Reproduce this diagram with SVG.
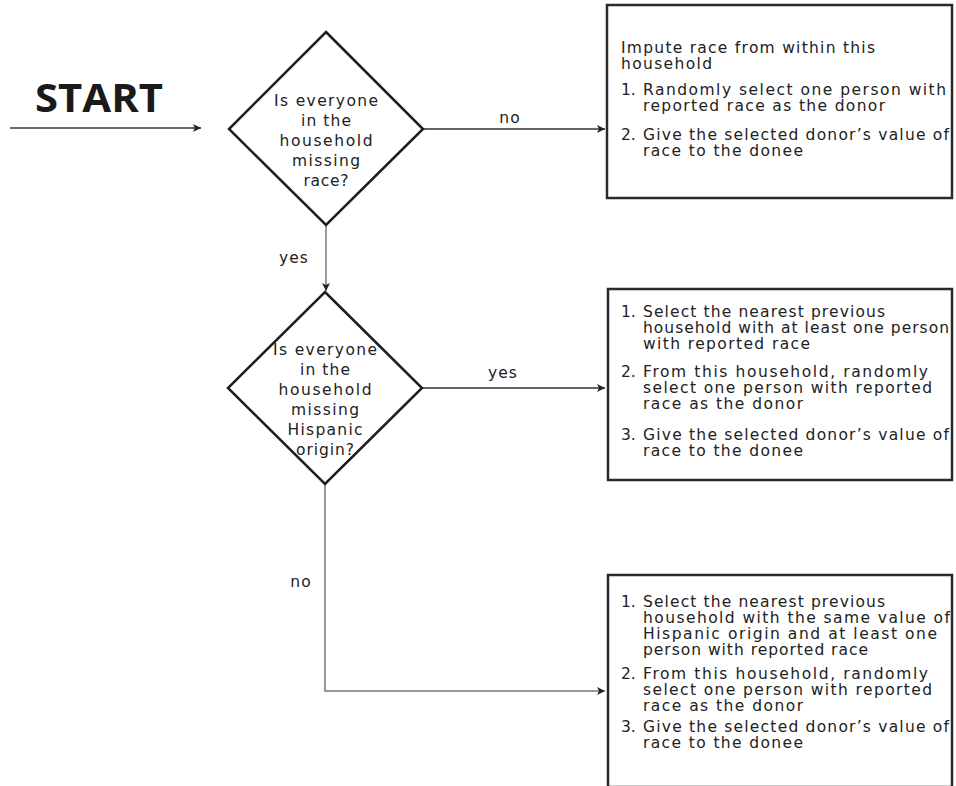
<svg xmlns="http://www.w3.org/2000/svg" width="956" height="786" viewBox="0 0 956 786">
<defs>
<marker id="arr" viewBox="0 0 10 10" refX="10" refY="5" markerWidth="10" markerHeight="8" markerUnits="userSpaceOnUse" orient="auto">
<path d="M0,0 L10,5 L0,10 L2.5,5 z" fill="#222"/>
</marker>
<style>
.t{font-family:"DejaVu Sans",sans-serif;font-size:15.5px;fill:#222}
.d{font-family:"DejaVu Sans",sans-serif;font-size:15.5px;fill:#222;text-anchor:middle}
.lbl{font-family:"DejaVu Sans",sans-serif;font-size:15.5px;letter-spacing:1px;fill:#222;text-anchor:middle}
.box{fill:#fff;stroke:#2a2a2a;stroke-width:2.5}
.dia{fill:#fff;stroke:#1e1e1e;stroke-width:2.5;stroke-linejoin:miter}
.c{fill:none;stroke:#333;stroke-width:1.3}
.cv{fill:none;stroke:#777;stroke-width:1.5}
</style>
</defs>
<rect width="956" height="786" fill="#fff"/>

<g id="start">
<text x="35" y="112" font-family="'Open Sans',sans-serif" font-weight="bold" font-size="40" fill="#1a1a1a" textLength="128" lengthAdjust="spacingAndGlyphs">START</text>
</g>

<g id="connectors">
<path class="c" d="M10,128 H201" marker-end="url(#arr)"/>
<path class="c" d="M423,129 H605" marker-end="url(#arr)"/>
<path class="cv" d="M326,225 V291" marker-end="url(#arr)"/>
<path class="c" d="M422,388 H605" marker-end="url(#arr)"/>
<path class="cv" d="M325,484 V691 H605" marker-end="url(#arr)"/>
<text class="lbl" x="510" y="123">no</text>
<text class="lbl" x="294" y="263">yes</text>
<text class="lbl" x="503" y="378">yes</text>
<text class="lbl" x="301" y="587">no</text>
</g>

<g id="decision1">
<polygon class="dia" points="326,32 423,129 326,225 229,129"/>
<text class="d" x="326" y="106" textLength="104">Is everyone</text>
<text class="d" x="326" y="126" textLength="50">in the</text>
<text class="d" x="326" y="146" textLength="93">household</text>
<text class="d" x="326" y="166" textLength="68">missing</text>
<text class="d" x="326" y="186" textLength="45">race?</text>
</g>

<g id="decision2">
<polygon class="dia" points="325,292 422,388 325,484 228,388"/>
<text class="d" x="325" y="355" textLength="104">Is everyone</text>
<text class="d" x="325" y="375" textLength="50">in the</text>
<text class="d" x="325" y="395" textLength="93">household</text>
<text class="d" x="325" y="415" textLength="68">missing</text>
<text class="d" x="325" y="435" textLength="75">Hispanic</text>
<text class="d" x="325" y="455" textLength="58">origin?</text>
</g>

<g id="box1">
<rect class="box" x="607" y="5" width="345" height="193"/>
<text class="t" x="621" y="53" textLength="254">Impute race from within this</text>
<text class="t" x="621" y="69" textLength="91">household</text>
<text class="t" x="621" y="95">1.</text>
<text class="t" x="643" y="95" textLength="303">Randomly select one person with</text>
<text class="t" x="643" y="111" textLength="242">reported race as the donor</text>
<text class="t" x="621" y="140">2.</text>
<text class="t" x="643" y="140" textLength="306">Give the selected donor’s value of</text>
<text class="t" x="643" y="156" textLength="160">race to the donee</text>
</g>

<g id="box2">
<rect class="box" x="608" y="289" width="344" height="191"/>
<text class="t" x="621" y="317">1.</text>
<text class="t" x="643" y="317" textLength="242">Select the nearest previous</text>
<text class="t" x="643" y="333" textLength="306">household with at least one person</text>
<text class="t" x="643" y="349" textLength="167">with reported race</text>
<text class="t" x="621" y="377">2.</text>
<text class="t" x="643" y="377" textLength="285">From this household, randomly</text>
<text class="t" x="643" y="393" textLength="289">select one person with reported</text>
<text class="t" x="643" y="409" textLength="160">race as the donor</text>
<text class="t" x="621" y="440">3.</text>
<text class="t" x="643" y="440" textLength="306">Give the selected donor’s value of</text>
<text class="t" x="643" y="456" textLength="160">race to the donee</text>
</g>

<g id="box3">
<rect class="box" x="608" y="575" width="344" height="212"/>
<text class="t" x="621" y="607">1.</text>
<text class="t" x="643" y="607" textLength="242">Select the nearest previous</text>
<text class="t" x="643" y="623" textLength="307">household with the same value of</text>
<text class="t" x="643" y="639" textLength="294">Hispanic origin and at least one</text>
<text class="t" x="643" y="655" textLength="225">person with reported race</text>
<text class="t" x="621" y="679">2.</text>
<text class="t" x="643" y="679" textLength="285">From this household, randomly</text>
<text class="t" x="643" y="695" textLength="289">select one person with reported</text>
<text class="t" x="643" y="711" textLength="160">race as the donor</text>
<text class="t" x="621" y="732">3.</text>
<text class="t" x="643" y="732" textLength="306">Give the selected donor’s value of</text>
<text class="t" x="643" y="748" textLength="160">race to the donee</text>
</g>
</svg>
